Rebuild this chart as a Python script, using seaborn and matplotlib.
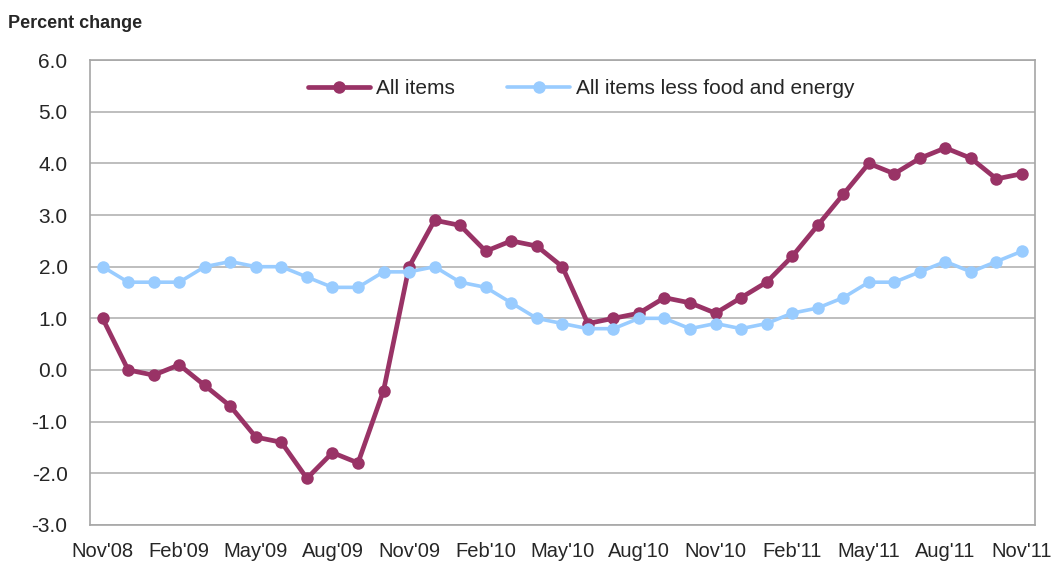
import numpy as np
import pandas as pd
import matplotlib
matplotlib.use("Agg")
import matplotlib.pyplot as plt
import seaborn as sns

# monthly, Nov'08 .. Nov'11
months = pd.date_range("2008-11-01", "2011-11-01", freq="MS")
all_items = [1.0, 0.0, -0.1, 0.1, -0.3, -0.7, -1.3, -1.4, -2.1, -1.6, -1.8, -0.4,
             2.0, 2.9, 2.8, 2.3, 2.5, 2.4, 2.0, 0.9, 1.0, 1.1, 1.4, 1.3,
             1.1, 1.4, 1.7, 2.2, 2.8, 3.4, 4.0, 3.8, 4.1, 4.3, 4.1, 3.7, 3.8]
core = [2.0, 1.7, 1.7, 1.7, 2.0, 2.1, 2.0, 2.0, 1.8, 1.6, 1.6, 1.9,
        1.9, 2.0, 1.7, 1.6, 1.3, 1.0, 0.9, 0.8, 0.8, 1.0, 1.0, 0.8,
        0.9, 0.8, 0.9, 1.1, 1.2, 1.4, 1.7, 1.7, 1.9, 2.1, 1.9, 2.1, 2.3]
tick_labels = [m.strftime("%b'%y") for m in months[::3]]

df = pd.DataFrame({"idx": np.arange(len(months)), "all": all_items, "core": core})

sns.set_theme(style="white")
plt.rcParams["font.family"] = ["Liberation Sans", "DejaVu Sans"]

fig = plt.figure(figsize=(10.57, 5.62), dpi=100)
ax = fig.add_axes([0.085, 0.066, 0.894, 0.827])

sns.lineplot(data=df, x="idx", y="all", ax=ax, color="#993366", linewidth=3.4,
             marker="o", markersize=9, markeredgewidth=0, label="All items")
sns.lineplot(data=df, x="idx", y="core", ax=ax, color="#99CCFF", linewidth=2.6,
             marker="o", markersize=9, markeredgewidth=0,
             label="All items less food and energy")

ax.set_xlim(-0.5, len(months) - 0.5)
ax.set_ylim(-3, 6)
ax.set_yticks(np.arange(-3, 7, 1))
ax.set_yticklabels([f"{v:.1f}" for v in np.arange(-3, 7, 1)], fontsize=15)
ax.set_xticks(df["idx"][::3])
ax.set_xticklabels(tick_labels, fontsize=14.5)
ax.tick_params(axis="y", length=0, pad=16)
ax.tick_params(axis="x", length=0, pad=12)
ax.set_xlabel("")
ax.set_ylabel("")
ax.grid(axis="y", color="#b3b3b3", linewidth=1.2)
ax.set_axisbelow(True)
for s in ax.spines.values():
    s.set_color("#a6a6a6")
    s.set_linewidth(1.2)

ax.legend(loc="upper center", bbox_to_anchor=(0.52, 1.0), ncol=2, frameon=False,
          fontsize=15, handlelength=3, columnspacing=2.5, handletextpad=0.3)

fig.text(0.008, 0.95, "Percent change", fontsize=13, fontweight="bold")

fig.savefig("out.png", dpi=100)
